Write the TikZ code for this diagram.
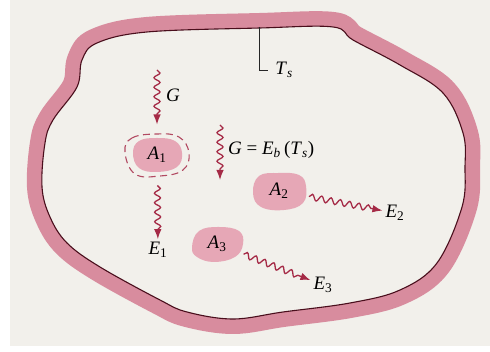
\documentclass[tikz,border=0pt]{standalone}
\usepackage{xcolor}
\usepackage{fontspec}
\usepackage{tikz}
\usetikzlibrary{arrows.meta,decorations.pathmorphing,shapes.geometric}
\newfontfamily\labelfont{Liberation Serif}
\definecolor{paper}{HTML}{F2F0EB}
\definecolor{wallpink}{HTML}{D88C9E}
\definecolor{wallline}{HTML}{4A0E1C}
\definecolor{raycol}{HTML}{A52A46}
\definecolor{blobfill}{HTML}{E6A7B6}
\newcommand{\sym}[2]{\textit{#1}\textsubscript{#2}}
\tikzset{
  blobnode/.style={ellipse,inner sep=0pt,font=\labelfont\fontsize{19}{22}\selectfont},
  halo/.style={draw=raycol!85,line width=1.1pt,dash pattern=on 7pt off 4.5pt},
  raylabel/.style={font=\labelfont\fontsize{19}{22}\selectfont,inner sep=3pt},
  wavy/.style={draw=raycol,line width=1.3pt,-{Latex[length=10pt,width=7.5pt]},
    decorate,decoration={snake,amplitude=3pt,segment length=9.5pt,post length=9pt}},
  leader/.style={draw=black!85,line width=0.8pt},
}
\def\wallpath{plot[smooth cycle,tension=0.6] coordinates {
  (82,292) (97,309) (147,320) (260,324) (333,325) (353,312) (400,287)
  (443,259) (463,219) (465,185) (462,145) (437,89) (400,62) (350,49)
  (283,40) (233,33) (187,40) (160,52) (100,85) (67,109) (50,135)
  (42,165) (45,209) (53,232) (77,265)}}

\begin{document}
\begin{tikzpicture}[x=1pt,y=1pt]
  % page and paper
  \fill[white] (0,0) rectangle (490,352);
  \fill[paper] (10,6) rectangle (490,352);
  \useasboundingbox (0,0) rectangle (490,352);
  % enclosure wall
  \draw[wallpink,line width=30pt,line join=round] \wallpath;
  \fill[paper] \wallpath;
  \draw[wallline,line width=1.1pt] \wallpath;
  % surfaces
  \coordinate (c1) at (157,197);
  \coordinate (c2) at (279,161);
  \coordinate (c3) at (217,108);
  \fill[blobfill,shift={(c1)}] plot[smooth cycle,tension=0.7] coordinates
    {(-24,2) (-18,14) (0,17) (18,14) (25,2) (20,-12) (0,-17) (-18,-13)};
  \draw[halo,shift={(c1)}] plot[smooth cycle,tension=0.7] coordinates
    {(-32,3) (-25,17) (0,21) (22,18) (32,2) (26,-15) (3,-21) (-22,-19)};
  \fill[blobfill,shift={(c2)}] plot[smooth cycle,tension=0.7] coordinates
    {(-26,-2) (-20,15) (0,18) (20,16) (27,5) (24,-12) (5,-19) (-18,-16)};
  \fill[blobfill,shift={(c3)}] plot[smooth cycle,tension=0.7] coordinates
    {(-25,-3) (-18,13) (2,17) (22,13) (26,0) (18,-13) (-3,-18) (-20,-13)};
  \node[blobnode,minimum width=64pt,minimum height=43pt,outer sep=9pt] (a1) at (c1) {\sym{A}{1}};
  \node[blobnode,minimum width=54pt,minimum height=38pt,outer sep=4pt] (a2) at (c2) {\sym{A}{2}};
  \node[blobnode,minimum width=52pt,minimum height=36pt,outer sep=4pt] (a3) at (c3) {\sym{A}{3}};
  % labels
  \node[raylabel] (e1) at (158,102) {\sym{E}{1}};
  \node[raylabel] (e2) at (395,139) {\sym{E}{2}};
  \node[raylabel] (e3) at (323,67) {\sym{E}{3}};
  \node[raylabel] (glbl) at (173,257) {\textit{G}};
  \node[raylabel,anchor=west] (gblk) at (225,202)
    {\textit{G} = \sym{E}{\textit{b}}\,(\sym{T}{\textit{s}})};
  \node[raylabel] (ts) at (284,282) {\sym{T}{\textit{s}}};
  \coordinate (g1) at (157,282);
  \coordinate (g2) at (220,227);
  \coordinate (g2end) at (220,172);
  \coordinate (tsfoot) at (259,325);
  % radiation
  \draw[wavy] (g1) -- (a1);
  \draw[wavy] (a1) -- (e1);
  \draw[wavy] (g2) -- (g2end);
  \draw[wavy] (a2) -- (e2);
  \draw[wavy] (a3) -- (e3);
  \draw[leader,shorten >=4pt] (tsfoot) |- (ts.west);
\end{tikzpicture}
\end{document}
